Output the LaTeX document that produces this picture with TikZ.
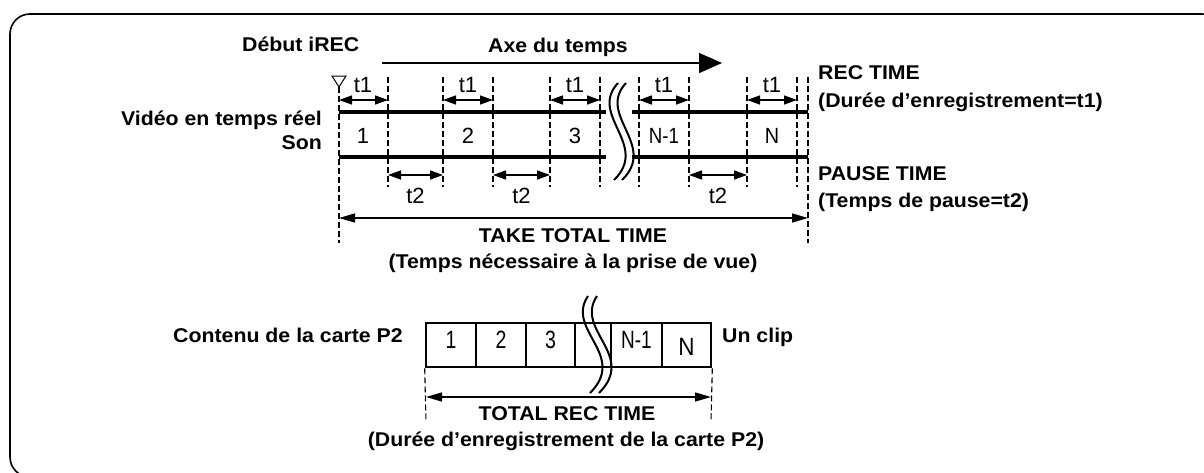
\documentclass[tikz,border=0pt]{standalone}
\usepackage{graphicx}
\usepackage{fontspec}
\setmainfont{Liberation Sans}
\newfontfamily\lblfont[FakeStretch=1.07]{Liberation Sans}
\usetikzlibrary{arrows.meta}
\begin{document}
\begin{tikzpicture}[x=1pt,y=-1pt,
  lbl/.style={font=\lblfont\bfseries\fontsize{19.9}{24}\selectfont, inner sep=0pt},
  reg/.style={font=\fontsize{22}{26}\selectfont, inner sep=0pt, anchor=base},
  big/.style={font=\fontsize{25}{28}\selectfont, inner sep=0pt, anchor=base},
  guide/.style={dash pattern=on 6pt off 3pt, line width=1.1pt},
  track/.style={line width=3.2pt},
  span/.style={{Triangle[length=13pt,width=9pt]}-{Triangle[length=13pt,width=9pt]}, line width=1.4pt},
  brk/.style={line width=2pt},
  cell/.style={draw, line width=2.6pt, minimum height=44pt, inner sep=0pt},
  frame/.style={line width=1.6pt, rounded corners=20pt}
]
\useasboundingbox (0,0) rectangle (1204,472);
\begin{scope}
  \clip (0,0) rectangle (1204,472);
  \draw[frame] (10,14) rectangle (1222,477);
\end{scope}

% ---------- top: time axis ----------
\node[lbl, anchor=base west] (debut) at (242,51) {Début iREC};
\node[lbl, anchor=base] (axe) at (558,52) {Axe du temps};
\coordinate (ax0) at (382,63);
\coordinate (ax1) at (722,63);
\draw[line width=1.4pt, -{Triangle[length=23pt,width=20pt]}] (ax0) -- (ax1);

% guide lines
\foreach \i/\x in {0/339,1/388,2/443,3/493,4/550,5/600,6/639,7/689,8/747,9/797,10/808} {
  \coordinate (g\i-top) at (\x,77);
  \coordinate (g\i-t1) at (\x,100);
  \coordinate (g\i-t2) at (\x,175);
  \coordinate (g\i-bot) at (\x,187);
  \coordinate (g\i-tt) at (\x,218);
  \coordinate (g\i-end) at (\x,243);
}
\coordinate (g0-apex) at (339,87);
\draw[line width=1pt] (332,76) -- (346,76) -- (g0-apex) -- cycle;
\draw[guide] (g0-apex) -- (g0-end);
\foreach \i in {1,...,9} { \draw[guide] (g\i-top) -- (g\i-bot); }
\draw[guide] (g10-top) -- (g10-end);

% tracks
\coordinate (ul0) at (339,112); \coordinate (ul1) at (606,112);
\coordinate (ll0) at (339,157); \coordinate (ll1) at (606,157);
\coordinate (ur0) at (632,112); \coordinate (ur1) at (808,112);
\coordinate (lr0) at (632,157); \coordinate (lr1) at (808,157);
\draw[track] (ul0) -- (ul1);
\draw[track] (ll0) -- (ll1);
\draw[track] (ur0) -- (ur1);
\draw[track] (lr0) -- (lr1);

% break marks (top)
\draw[brk] (618,83) .. controls (588,115) and (650,145) .. (614,180);
\draw[brk] (626,83) .. controls (596,115) and (658,145) .. (622,180);

% t1 spans
\foreach \a/\b/\m in {0/1/363,2/3/468,4/5/575,6/7/664,8/9/772} {
  \draw[span] (g\a-t1) -- (g\b-t1);
  \node[reg] (t1l\a) at (\m,92) {t1};
}
% t2 spans
\foreach \a/\b/\m in {1/2/415.5,3/4/521.5,7/8/718} {
  \draw[span] (g\a-t2) -- (g\b-t2);
  \node[reg] (t2l\a) at (\m,203) {t2};
}
% segment numbers
\node[reg] (s1) at (363,143) {1};
\node[reg] (s2) at (468,143) {2};
\node[reg] (s3) at (575,143) {3};
\node[reg] (sn1) at (664,143) {\scalebox{0.85}[1]{N-1}};
\node[reg] (sn) at (772,143) {\scalebox{0.9}[1]{N}};

% left labels
\node[lbl, anchor=base east] (video) at (322,125) {Vidéo en temps réel};
\node[lbl, anchor=base east] (son) at (322,149) {Son};
% right labels
\node[lbl, anchor=base west] (rec) at (818,79) {REC TIME};
\node[lbl, anchor=base west] (recd) at (818,107) {(Durée d’enregistrement=t1)};
\node[lbl, anchor=base west] (pause) at (818,180) {PAUSE TIME};
\node[lbl, anchor=base west] (paused) at (818,207) {(Temps de pause=t2)};

% take total time
\draw[{Triangle[length=16pt,width=9pt]}-{Triangle[length=16pt,width=9pt]}, line width=1.3pt] (g0-tt) -- (g10-tt);
\node[lbl, anchor=base] (take) at (573,242) {TAKE TOTAL TIME};
\node[lbl, anchor=base] (taked) at (573,268) {(Temps nécessaire à la prise de vue)};

% ---------- bottom: card contents ----------
\node[lbl, anchor=base east] (contenu) at (403,342) {Contenu de la carte P2};
\node[cell, minimum width=50pt] (c1) at (451,345) {};
\node[cell, minimum width=50pt] (c2) at (501,345) {};
\node[cell, minimum width=49pt] (c3) at (550.5,345) {};
\node[cell, minimum width=36pt] (c4) at (593,345) {};
\node[cell, minimum width=51pt] (c5) at (636.5,345) {};
\node[cell, minimum width=49pt] (c6) at (686.5,345) {};
\node[big] (b1) at (451,348) {\scalebox{0.78}[1]{1}};
\node[big] (b2) at (501,348) {\scalebox{0.78}[1]{2}};
\node[big] (b3) at (550.5,348) {\scalebox{0.78}[1]{3}};
\node[big] (bn1) at (636.5,348) {\scalebox{0.76}[1]{N-1}};
\node[big] (bn) at (686.5,355) {\scalebox{0.9}[1]{N}};
\node[lbl, anchor=base west] (clip) at (722,342) {Un clip};

% break marks (bottom)
\draw[brk] (588,296) .. controls (565,330) and (628,355) .. (590,393);
\draw[brk] (597,296) .. controls (574,330) and (637,355) .. (599,393);

% total rec time
\coordinate (bl0) at (426,422); \coordinate (br0) at (711,422);
\coordinate (bla) at (426,397); \coordinate (bra) at (711,397);
\draw[guide] (c1.south west) -- (bl0);
\draw[guide] (c6.south east) -- (br0);
\draw[{Triangle[length=16pt,width=9pt]}-{Triangle[length=16pt,width=9pt]}, line width=1.3pt] (bla) -- (bra);
\node[lbl, anchor=base] (total) at (567,420) {TOTAL REC TIME};
\node[lbl, anchor=base] (totald) at (566,446) {(Durée d’enregistrement de la carte P2)};
\end{tikzpicture}
\end{document}
